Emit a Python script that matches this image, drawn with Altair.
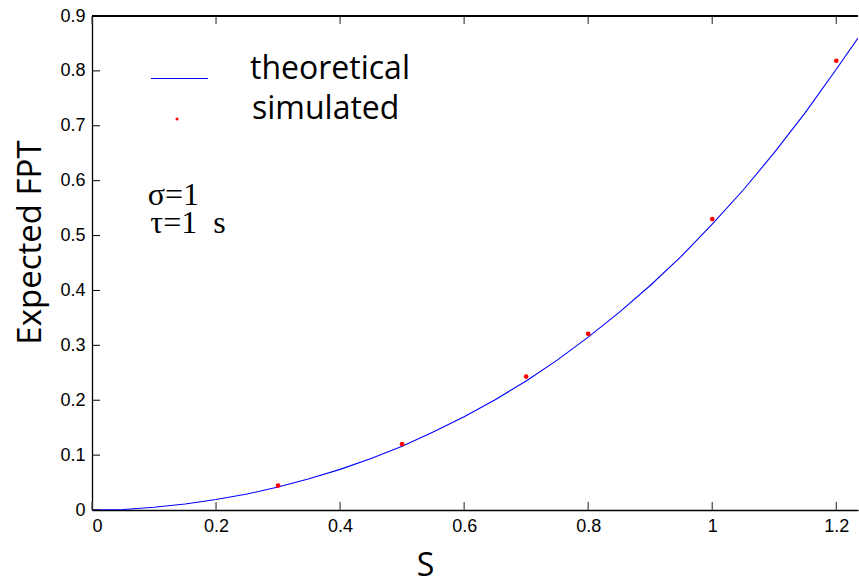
import altair as alt
import pandas as pd

# Theoretical expected first-passage time against S
s_curve = [0.0, 0.05, 0.1, 0.15, 0.2, 0.25, 0.3, 0.35, 0.4, 0.45, 0.5, 0.55, 0.6,
           0.65, 0.7, 0.75, 0.8, 0.85, 0.9, 0.95, 1.0, 1.05, 1.1, 1.15, 1.2, 1.235]
fpt_curve = [0.0, 0.001, 0.005, 0.011, 0.019, 0.029, 0.042, 0.057, 0.074, 0.094, 0.116,
             0.142, 0.170, 0.201, 0.235, 0.273, 0.315, 0.360, 0.409, 0.462, 0.521,
             0.583, 0.651, 0.724, 0.803, 0.860]

# Simulated estimates
s_sim = [0.3, 0.5, 0.7, 0.8, 1.0, 1.2]
fpt_sim = [0.0445, 0.120, 0.243, 0.321, 0.530, 0.8185]

x_ticks = [0, 0.2, 0.4, 0.6, 0.8, 1.0, 1.2]
y_ticks = [0, 0.1, 0.2, 0.3, 0.4, 0.5, 0.6, 0.7, 0.8, 0.9]

W, H = 766, 494
PLOT_FONT = "Open Sans"
TICK_FONT = "Liberation Sans"
TICK_SIZE = 18
BLUE, RED = "#0000ff", "#ff0000"
# thin horizontal bar used as the legend key of the curve
BAR_PATH = "M-1,-0.021H1V0.021H-1Z"

curve_df = pd.DataFrame({"S": s_curve, "FPT": fpt_curve, "series": "theoretical"})
sim_df = pd.DataFrame({"S": s_sim, "FPT": fpt_sim, "series": "simulated"})
xt_df = pd.DataFrame({"S": x_ticks})
yt_df = pd.DataFrame({"FPT": y_ticks})
notes_df = pd.DataFrame({"S": [0.090, 0.094], "FPT": [0.555, 0.504],
                         "label": ["σ=1", "τ=1\u2002s"]})

x_scale = alt.Scale(domain=[0, 1.235], nice=False, zero=False)
y_scale = alt.Scale(domain=[0, 0.9], nice=False)

x_axis = alt.Axis(values=x_ticks, format="~g", title="S", labelPadding=7,
                  labelFont=TICK_FONT, labelFontSize=TICK_SIZE, labelColor="black",
                  titleFontSize=32, titleX=333, titleY=55, titleBaseline="middle")
y_axis = alt.Axis(values=y_ticks, format="~g", title="Expected FPT", labelPadding=7,
                  labelFont=TICK_FONT, labelFontSize=TICK_SIZE, labelColor="black",
                  titleFontSize=33, titleX=-62, titleY=226, titleAngle=-90,
                  titleBaseline="middle", titleAlign="center")

line = alt.Chart(curve_df).mark_line(strokeWidth=1.1, clip=True, color=BLUE).encode(
    x=alt.X("S:Q", scale=x_scale, axis=x_axis),
    y=alt.Y("FPT:Q", scale=y_scale, axis=y_axis),
)

# legend key for the theoretical curve (carried by its first point, not drawn)
line_key = alt.Chart(curve_df.head(1)).mark_point(filled=True, opacity=0).encode(
    x=alt.X("S:Q", scale=x_scale, axis=x_axis),
    y=alt.Y("FPT:Q", scale=y_scale, axis=y_axis),
    fill=alt.Fill("series:N",
                  scale=alt.Scale(domain=["theoretical"], range=[BLUE]),
                  legend=alt.Legend(orient="none", legendX=59, legendY=34, title=None,
                                    symbolType=BAR_PATH, symbolSize=3249,
                                    symbolStrokeWidth=0, symbolOpacity=1, padding=0,
                                    labelFont=PLOT_FONT, labelFontSize=32,
                                    labelBaseline="alphabetic",
                                    labelColor="black", labelOffset=42)),
)

points = alt.Chart(sim_df).mark_point(filled=True, size=22, opacity=1).encode(
    x=alt.X("S:Q", scale=x_scale, axis=x_axis),
    y=alt.Y("FPT:Q", scale=y_scale, axis=y_axis),
    fill=alt.Fill("series:N",
                  scale=alt.Scale(domain=["simulated"], range=[RED]),
                  legend=alt.Legend(orient="none", legendX=69, legendY=87, title=None,
                                    symbolType="circle", symbolSize=9,
                                    symbolStrokeWidth=0, symbolOpacity=1, padding=0,
                                    labelFont=PLOT_FONT, labelFontSize=32,
                                    labelBaseline="alphabetic",
                                    labelColor="black", labelOffset=59)),
)

# Inward-pointing tick marks on the left, bottom and top edges
y_tick_marks = alt.Chart(yt_df).mark_rule(color="black", strokeWidth=1).encode(
    y=alt.Y("FPT:Q", scale=y_scale), x=alt.value(0), x2=alt.value(8))
x_tick_bottom = alt.Chart(xt_df).mark_rule(color="#444444", strokeWidth=1.2).encode(
    x=alt.X("S:Q", scale=x_scale), y=alt.value(H), y2=alt.value(H - 8))
x_tick_top = alt.Chart(xt_df).mark_rule(color="#444444", strokeWidth=1.2).encode(
    x=alt.X("S:Q", scale=x_scale), y=alt.value(0), y2=alt.value(8))
top_edge = alt.Chart(xt_df).mark_rule(color="black", strokeWidth=1.3).encode(
    x=alt.value(0), x2=alt.value(W), y=alt.value(0))

notes = alt.Chart(notes_df).mark_text(font="Liberation Serif", fontSize=32, align="left",
                                      baseline="alphabetic", color="black").encode(
    x=alt.X("S:Q", scale=x_scale),
    y=alt.Y("FPT:Q", scale=y_scale),
    text="label:N")

chart = alt.layer(line, line_key, points, y_tick_marks, x_tick_bottom, x_tick_top,
                  top_edge, notes).properties(
    width=W, height=H,
    padding={"left": 92, "top": 16, "right": 1, "bottom": 73},
    autosize=alt.AutoSizeParams(type="none"),
    background="white",
).resolve_scale(fill="independent").configure_view(strokeWidth=0).configure_axis(
    grid=False, ticks=False,
    labelFont=TICK_FONT, labelFontSize=TICK_SIZE, labelColor="black",
    domainColor="black", domainWidth=1.3,
    titleFont=PLOT_FONT, titleFontWeight="normal", titleColor="black",
)

chart.save("out.html", embed_options={"renderer": "svg", "actions": False})
